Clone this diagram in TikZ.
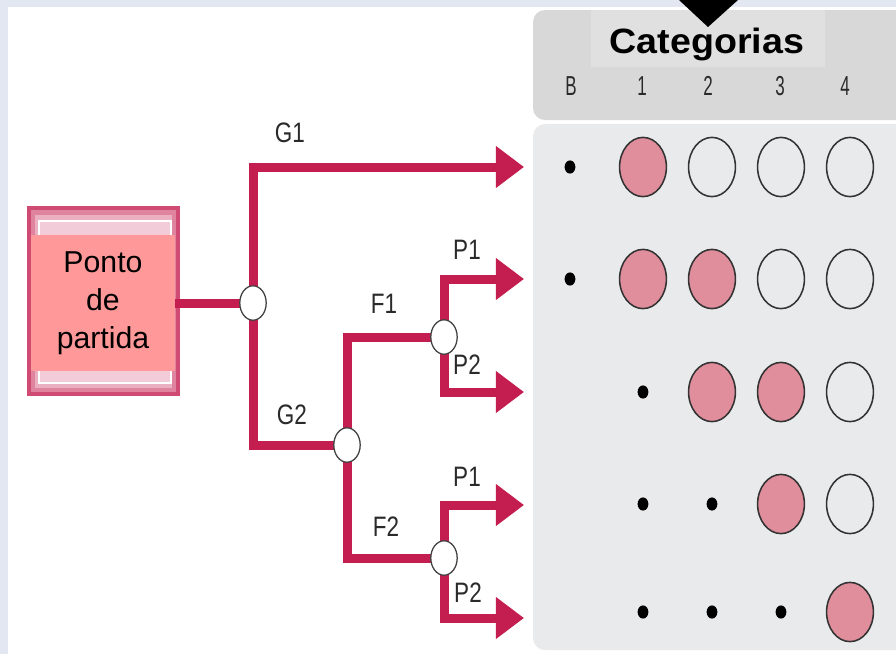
\documentclass[tikz,border=0pt]{standalone}
\usepackage{fontspec}
\setmainfont{Liberation Sans}
\usetikzlibrary{shapes.geometric,arrows.meta}

\pgfdeclarelayer{bg}
\pgfdeclarelayer{wires}
\pgfsetlayers{bg,wires,main}

\definecolor{wirered}{HTML}{C41E50}
\definecolor{bubble}{HTML}{E08E9B}
\definecolor{panel}{HTML}{E9EAEC}
\definecolor{headpanel}{HTML}{D8D8D8}
\definecolor{headbox}{HTML}{E0E0E0}
\definecolor{edgeblue}{HTML}{E2E7F1}
\definecolor{startpink}{HTML}{FF9999}
\definecolor{labelgray}{HTML}{2A2A2A}

\newcommand{\narrowtext}[2]{\scalebox{#1}[1]{#2}}

\tikzset{
  wire/.style={draw=wirered, line width=0.225cm},
  arrowed/.style={-{Triangle[length=0.7cm,width=1.0cm]}},
  junction/.style={ellipse, draw=black!75, fill=white, line width=0.9pt,
    minimum width=0.66cm, minimum height=0.86cm, inner sep=0pt},
  cell/.style={ellipse, draw=black!80, line width=1.1pt,
    minimum width=1.17cm, minimum height=1.48cm, inner sep=0pt},
  filled/.style={cell, fill=bubble},
  hollow/.style={cell, fill=none},
  dotmark/.style={ellipse, fill=black, minimum width=0.27cm,
    minimum height=0.33cm, inner sep=0pt},
  branchlabel/.style={text=labelgray, inner sep=0pt,
    font=\fontsize{20}{20}\selectfont},
  colhead/.style={text=labelgray, inner sep=0pt,
    font=\fontsize{19.5}{19.5}\selectfont},
  startbox/.style={fill=startpink, minimum width=3.6cm, minimum height=3.4cm,
    inner sep=0pt, align=center, font=\fontsize{21.5}{27}\selectfont},
}

\begin{document}
\begin{tikzpicture}[x=0.025cm, y=-0.025cm]
\useasboundingbox (0,0) rectangle (896,654);
\clip (0,0) rectangle (896,654);

% page frame and the category panels
\begin{pgfonlayer}{bg}
  \fill[edgeblue] (0,0) rectangle (896,654);
  \fill[white] (8,7) rectangle (896,654);
  \fill[headpanel, rounded corners=0.3cm] (533,10) rectangle (930,120);
  \fill[headbox] (591,10) rectangle (825,67);
  \fill[black] (679,0) -- (738,0) -- (708,27) -- cycle;
  \fill[panel, rounded corners=0.3cm] (533,124) rectangle (930,650);
  % framed start box
  \fill[wirered!80!white] (27,206) rectangle (180,396);
  \fill[wirered!55!white] (31,210) rectangle (176,392);
  \fill[wirered!35!white] (35,215) rectangle (172,388);
  \draw[white, line width=1.2pt, fill=wirered!22!white] (39,221) rectangle (171,383);
\end{pgfonlayer}

% header texts
\node[inner sep=0pt, font=\fontsize{25}{25}\selectfont\bfseries] (title) at (707,44)
  {\narrowtext{1.07}{Categorias}};
\node[colhead] (hB) at (571,86) {\narrowtext{0.62}{B}};
\node[colhead] (h1) at (642,86) {\narrowtext{0.62}{1}};
\node[colhead] (h2) at (708,86) {\narrowtext{0.62}{2}};
\node[colhead] (h3) at (780,86) {\narrowtext{0.62}{3}};
\node[colhead] (h4) at (845,86) {\narrowtext{0.62}{4}};

% decision tree
\node[startbox] (start) at (103,303) {Ponto\\de\\partida};
\node[junction] (j1) at (253,303) {};
\node[junction] (j2) at (347,445) {};
\node[junction] (j3) at (444,337) {};
\node[junction] (j4) at (444,558) {};

\coordinate (r1) at (524,167);
\coordinate (r2) at (524,279);
\coordinate (r3) at (524,392);
\coordinate (r4) at (524,505);
\coordinate (r5) at (524,618);

\begin{pgfonlayer}{wires}
  \draw[wire] (start.east) -- (j1.center);
  \draw[wire, arrowed] (j1.center) |- (r1);
  \draw[wire] (j1.center) |- (j2.center);
  \draw[wire] (j2.center) |- (j3.center);
  \draw[wire, arrowed] (j3.center) |- (r2);
  \draw[wire, arrowed] (j3.center) |- (r3);
  \draw[wire] (j2.center) |- (j4.center);
  \draw[wire, arrowed] (j4.center) |- (r4);
  \draw[wire, arrowed] (j4.center) |- (r5);
\end{pgfonlayer}

\node[branchlabel] (lG1) at (290,133) {\narrowtext{0.8}{G1}};
\node[branchlabel] (lG2) at (292,415) {\narrowtext{0.8}{G2}};
\node[branchlabel] (lF1) at (384,304) {\narrowtext{0.8}{F1}};
\node[branchlabel] (lF2) at (386,527) {\narrowtext{0.8}{F2}};
\node[branchlabel] (lP1a) at (467,250) {\narrowtext{0.8}{P1}};
\node[branchlabel] (lP2a) at (467,365) {\narrowtext{0.8}{P2}};
\node[branchlabel] (lP1b) at (467,477) {\narrowtext{0.8}{P1}};
\node[branchlabel] (lP2b) at (468,593) {\narrowtext{0.8}{P2}};

% category marks, one row per path
\foreach \x/\y/\s/\n in {
  570/167/dotmark/aB, 643/167/filled/a1, 712/167/hollow/a2, 781/167/hollow/a3, 850/167/hollow/a4,
  570/279/dotmark/bB, 643/279/filled/b1, 712/279/filled/b2, 781/279/hollow/b3, 850/279/hollow/b4,
  643/392/dotmark/c1, 712/392/filled/c2, 781/392/filled/c3, 850/392/hollow/c4,
  643/504/dotmark/d1, 712/504/dotmark/d2, 781/504/filled/d3, 850/504/hollow/d4,
  643/612/dotmark/e1, 712/612/dotmark/e2, 781/612/dotmark/e3, 850/612/filled/e4}
  \node[\s] (cell-\n) at (\x,\y) {};
\end{tikzpicture}
\end{document}
